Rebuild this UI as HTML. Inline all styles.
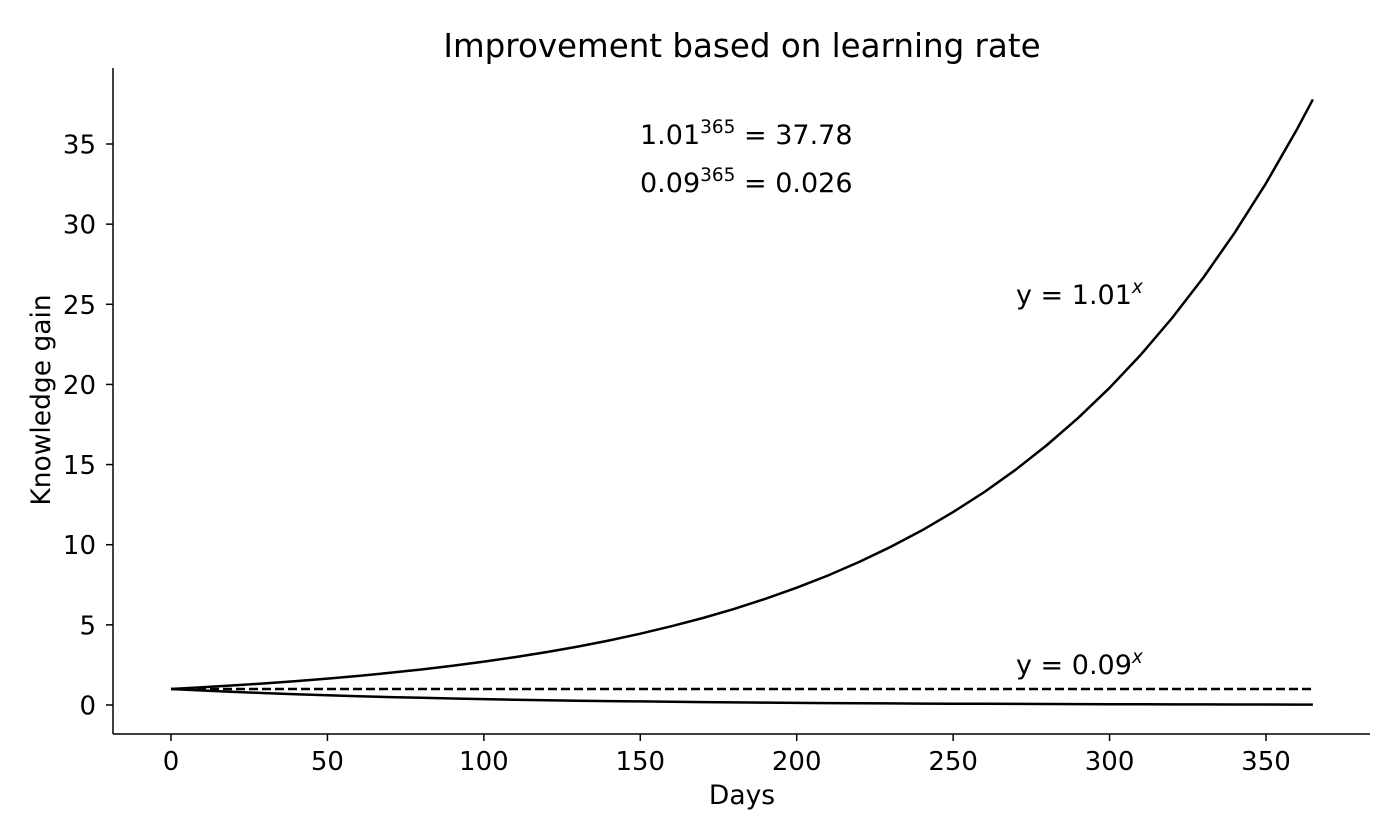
<!DOCTYPE html>
<html><head><meta charset="utf-8"><style>
body{margin:0;background:#fff}
svg{display:block;font-family:"DejaVu Sans","Liberation Sans",sans-serif}
</style></head><body>
<svg id="chart" width="1400" height="840" viewBox="0 0 1400 840">
<rect width="1400" height="840" fill="#fff"/>
<text x="742" y="57" font-size="32.5" text-anchor="middle">Improvement based on learning rate</text>
<g id="axes"></g>
<g id="series"></g>
<text x="640" y="144" font-size="27">1.01<tspan dy="-11" font-size="18.5">365</tspan><tspan dy="11"> = 37.78</tspan></text>
<text x="640" y="192" font-size="27">0.09<tspan dy="-11" font-size="18.5">365</tspan><tspan dy="11"> = 0.026</tspan></text>
<text x="1016" y="304" font-size="27">y = 1.01<tspan dy="-11" font-size="18.5" font-style="italic">x</tspan></text>
<text x="1016" y="674" font-size="27">y = 0.09<tspan dy="-11" font-size="18.5" font-style="italic">x</tspan></text>
<text x="742" y="804" font-size="26.5" text-anchor="middle">Days</text>
<text transform="translate(50,400) rotate(-90)" font-size="26.5" text-anchor="middle">Knowledge gain</text>
</svg>
<script>
const days=[0,10,20,30,40,50,60,70,80,90,100,110,120,130,140,150,160,170,180,190,200,210,220,230,240,250,260,270,280,290,300,310,320,330,340,350,360,365];
const growth=[1,1.1046,1.2202,1.3478,1.4889,1.6446,1.8167,2.0068,2.2167,2.4486,2.7048,2.9878,3.3004,3.6456,4.0270,4.4484,4.9138,5.4279,5.9958,6.6231,7.3160,8.0815,8.9271,9.8611,10.893,12.032,13.291,14.682,16.218,17.915,19.789,21.860,24.147,26.673,29.464,32.547,35.953,37.783];
const decay=[1,0.9044,0.8179,0.7397,0.6690,0.6050,0.5472,0.4948,0.4475,0.4047,0.3660,0.3310,0.2994,0.2708,0.2449,0.2215,0.2003,0.1811,0.1638,0.1481,0.1340,0.1212,0.1096,0.0991,0.0896,0.0811,0.0733,0.0663,0.0600,0.0542,0.0490,0.0443,0.0401,0.0363,0.0328,0.0297,0.0268,0.0255];
const baseline=[1,1];
const baselineDays=[0,365];
const xTicks=[0,50,100,150,200,250,300,350];
const yTicks=[0,5,10,15,20,25,30,35];
const NS="http://www.w3.org/2000/svg";
const X=v=>171+v*(1266-171)/350;
const Y=v=>705-v*(705-144)/35;
function mk(tag,attrs,parent){const e=document.createElementNS(NS,tag);for(const k in attrs)e.setAttribute(k,attrs[k]);parent.appendChild(e);return e;}
const axes=document.getElementById('axes'),series=document.getElementById('series');
let l=mk('line',{x1:113,y1:68,x2:113,y2:734,stroke:'#000','stroke-width':1.5},axes);


l=mk('line',{x1:113,y1:734,x2:1370,y2:734,stroke:'#000','stroke-width':1.5},axes);


xTicks.forEach(t=>{
 const tk=mk('line',{x1:X(t),y1:734,x2:X(t),y2:741,stroke:'#000','stroke-width':1.5},axes);
 
 
 const tx=mk('text',{x:X(t),y:770,'font-size':26,'text-anchor':'middle'},axes);tx.textContent=t;
 
 
});
yTicks.forEach(t=>{
 const tk=mk('line',{x1:106,y1:Y(t),x2:113,y2:Y(t),stroke:'#000','stroke-width':1.5},axes);
 
 
 const tx=mk('text',{x:96,y:Y(t)+9.5,'font-size':26,'text-anchor':'end'},axes);tx.textContent=t;
 
 
});
function path(xs,ys){return xs.map((d,i)=>(i?'L':'M')+X(d).toFixed(1)+','+Y(ys[i]).toFixed(1)).join('');}
let p=mk('path',{d:path(days,growth),fill:'none',stroke:'#000','stroke-width':2.5,'stroke-linejoin':'round'},series);


p=mk('path',{d:path(days,decay),fill:'none',stroke:'#000','stroke-width':2.5,'stroke-linejoin':'round'},series);


p=mk('path',{d:path(baselineDays,baseline),fill:'none',stroke:'#000','stroke-width':2.5,'stroke-dasharray':'9,4'},series);


</script>
</body></html>
